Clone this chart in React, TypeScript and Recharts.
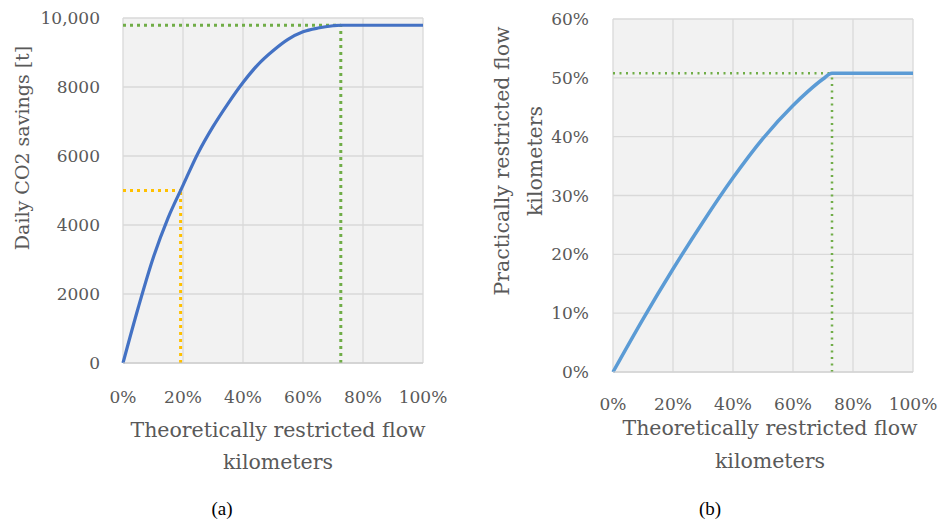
import React from 'react';
import { LineChart, Line, XAxis, YAxis, CartesianGrid, ReferenceLine, Label } from 'recharts';

// ---- Data (a): theoretically restricted flow km (%) vs daily CO2 savings [t]
const aShare = [0, 5, 10, 15, 20, 25, 30, 35, 40, 45, 50, 55, 60, 65, 70, 72.6, 80, 90, 100];
const aSavings = [0, 1580, 3030, 4200, 5150, 6080, 6850, 7520, 8130, 8650, 9050, 9380, 9600, 9710, 9775, 9790, 9790, 9790, 9790];
const aYTicks = [0, 2000, 4000, 6000, 8000, 10000];
const aMaxPoint = [72.6, 9790];
const aHalfPoint = [19.2, 5000];

// ---- Data (b): theoretically vs practically restricted flow km (%)
const bShare = [0, 10, 20, 30, 40, 50, 60, 65, 70, 73, 80, 90, 100];
const bPractical = [0, 9, 17.5, 25.5, 33, 39.7, 45.3, 47.7, 49.8, 50.8, 50.8, 50.8, 50.8];
const bYTicks = [0, 10, 20, 30, 40, 50, 60];
const bMaxPoint = [73, 50.8];

const xTicks = [0, 20, 40, 60, 80, 100];

const dataA = aShare.map((x, i) => ({ x, y: aSavings[i] }));
const dataB = bShare.map((x, i) => ({ x, y: bPractical[i] }));

const FONT = '"DejaVu Serif", serif';
const GRAY = '#595959';
const GREEN = '#70AD47';
const YELLOW = '#FFC000';

const fmtA = (v: number) => (v === 10000 ? '10,000' : String(v));
const fmtPct = (v: number) => `${v}%`;

const XTitle = (offsetY: number, gap: number, dx: number) => (props: any) => {
  const vb = props.viewBox || {};
  const cx = vb.x + vb.width / 2 + dx;
  return (
    <text x={cx} y={vb.y + offsetY} textAnchor="middle" fill={GRAY} fontFamily={FONT} fontSize={20.5}>
      <tspan x={cx} dy={0}>Theoretically restricted flow</tspan>
      <tspan x={cx} dy={gap}>kilometers</tspan>
    </text>
  );
};

const YTitleA = () => (props: any) => {
  const cx = 29;
  const cy = 148;
  return (
    <text x={cx} y={cy} textAnchor="middle" fill={GRAY} fontFamily={FONT} fontSize={19} transform={`rotate(-90, ${cx}, ${cy})`}>
      Daily CO2 savings [t]
    </text>
  );
};

const YTitleB = () => (props: any) => {
  const cx = 39;
  const cy = 161;
  return (
    <text x={cx} y={cy} textAnchor="middle" fill={GRAY} fontFamily={FONT} fontSize={20.5} transform={`rotate(-90, ${cx}, ${cy})`}>
      <tspan x={cx} dy={0}>Practically restricted flow</tspan>
      <tspan x={cx} dy={33}>kilometers</tspan>
    </text>
  );
};

const tickStyle = { fill: GRAY, fontFamily: FONT, fontSize: 17 };

export default function App() {
  return (
    <div style={{ position: 'absolute', left: 0, top: 0, width: 940, height: 522, background: '#fff' }}>
      <div style={{ position: 'absolute', left: 0, top: 0 }}>
        <LineChart width={460} height={480} data={dataA} margin={{ top: 18, right: 37, left: 0, bottom: 0 }}>
          <CartesianGrid fill="#F2F2F2" stroke="#D9D9D9" strokeWidth={1.3} />
          <XAxis
            dataKey="x"
            type="number"
            domain={[0, 100]}
            ticks={xTicks}
            tickFormatter={fmtPct}
            height={117}
            tickLine={false}
            tickSize={0}
            tickMargin={28}
            axisLine={{ stroke: '#C8C8C8' }}
            tick={tickStyle}
            interval={0}
          >
            <Label content={XTitle(74, 32, 5)} />
          </XAxis>
          <YAxis
            type="number"
            domain={[0, 10000]}
            ticks={aYTicks}
            tickFormatter={fmtA}
            width={123}
            tickLine={false}
            tickSize={0}
            tickMargin={23}
            axisLine={false}
            tick={tickStyle}
            interval={0}
          >
            <Label content={YTitleA()} />
          </YAxis>
          <ReferenceLine
            segment={[{ x: 0, y: aMaxPoint[1] }, { x: aMaxPoint[0], y: aMaxPoint[1] }]}
            stroke={GREEN}
            strokeWidth={3}
            strokeDasharray="3 4"
          />
          <ReferenceLine
            segment={[{ x: aMaxPoint[0], y: 0 }, { x: aMaxPoint[0], y: aMaxPoint[1] }]}
            stroke={GREEN}
            strokeWidth={3}
            strokeDasharray="3 4"
          />
          <ReferenceLine
            segment={[{ x: 0, y: aHalfPoint[1] }, { x: aHalfPoint[0], y: aHalfPoint[1] }]}
            stroke={YELLOW}
            strokeWidth={3}
            strokeDasharray="3 4"
          />
          <ReferenceLine
            segment={[{ x: aHalfPoint[0], y: 0 }, { x: aHalfPoint[0], y: aHalfPoint[1] }]}
            stroke={YELLOW}
            strokeWidth={3}
            strokeDasharray="3 4"
          />
          <Line type="monotone" dataKey="y" stroke="#4472C4" strokeWidth={3.2} dot={false} isAnimationActive={false} />
        </LineChart>
      </div>

      <div style={{ position: 'absolute', left: 470, top: 0 }}>
        <LineChart width={470} height={480} data={dataB} margin={{ top: 19, right: 27, left: 0, bottom: 0 }}>
          <CartesianGrid fill="#F2F2F2" stroke="#D9D9D9" strokeWidth={1.3} />
          <XAxis
            dataKey="x"
            type="number"
            domain={[0, 100]}
            ticks={xTicks}
            tickFormatter={fmtPct}
            height={108}
            tickLine={false}
            tickSize={0}
            tickMargin={26}
            axisLine={{ stroke: '#D0D0D0' }}
            tick={tickStyle}
            interval={0}
          >
            <Label content={XTitle(63, 33, 7)} />
          </XAxis>
          <YAxis
            type="number"
            domain={[0, 60]}
            ticks={bYTicks}
            tickFormatter={fmtPct}
            width={143}
            tickLine={false}
            tickSize={0}
            tickMargin={24}
            axisLine={false}
            tick={tickStyle}
            interval={0}
          >
            <Label content={YTitleB()} />
          </YAxis>
          <ReferenceLine
            segment={[{ x: 0, y: bMaxPoint[1] }, { x: bMaxPoint[0], y: bMaxPoint[1] }]}
            stroke={GREEN}
            strokeWidth={2.5}
            strokeDasharray="2 4.5"
          />
          <ReferenceLine
            segment={[{ x: bMaxPoint[0], y: 0 }, { x: bMaxPoint[0], y: bMaxPoint[1] }]}
            stroke={GREEN}
            strokeWidth={2.5}
            strokeDasharray="2 4.5"
          />
          <Line type="monotone" dataKey="y" stroke="#5B9BD5" strokeWidth={3.5} dot={false} isAnimationActive={false} />
        </LineChart>
      </div>

      <div style={{ position: 'absolute', left: 192, top: 497, width: 60, textAlign: 'center', fontFamily: '"Liberation Serif", serif', fontSize: 19, lineHeight: '24px', color: '#000' }}>(a)</div>
      <div style={{ position: 'absolute', left: 680, top: 497, width: 60, textAlign: 'center', fontFamily: '"Liberation Serif", serif', fontSize: 19, lineHeight: '24px', color: '#000' }}>(b)</div>
    </div>
  );
}
